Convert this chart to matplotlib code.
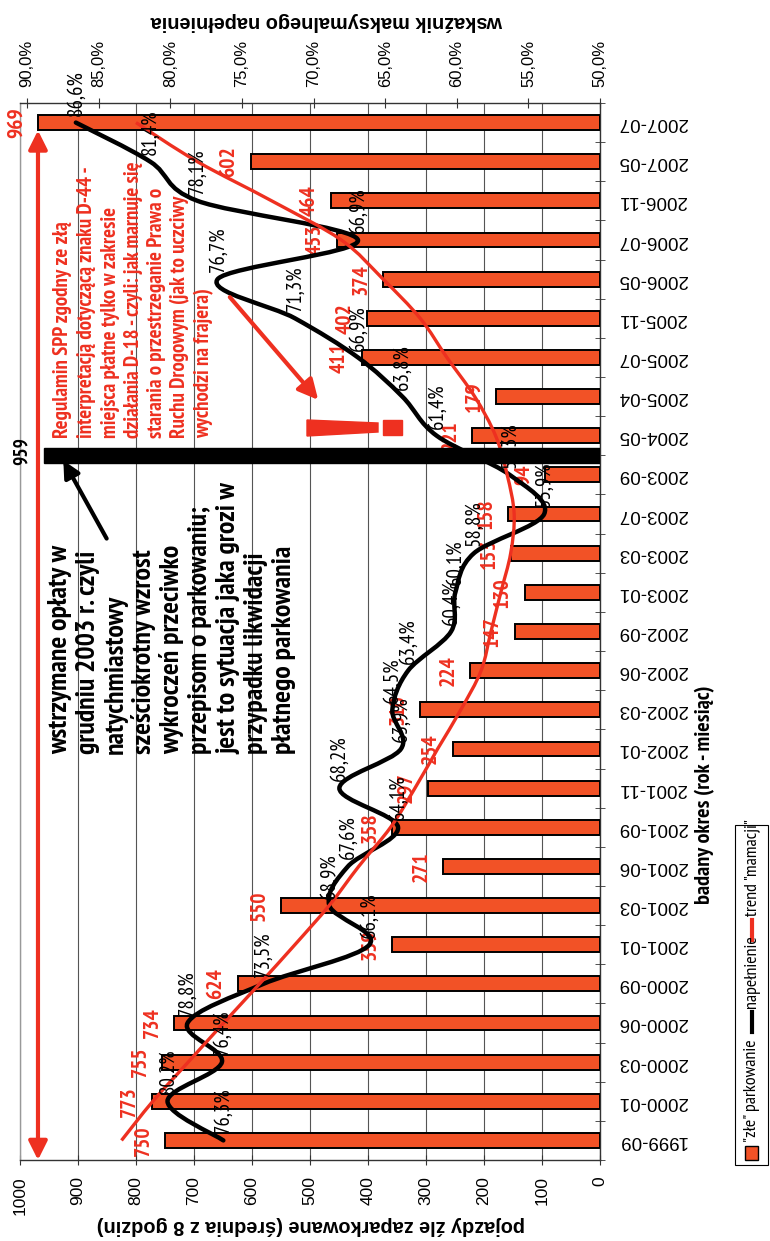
import numpy as np
import matplotlib
matplotlib.use("Agg")
import matplotlib.pyplot as plt
from matplotlib import font_manager as fm
from matplotlib.path import Path
from matplotlib.patches import PathPatch, Rectangle, Polygon, FancyArrowPatch
from matplotlib.lines import Line2D

# ---- data (bottom -> top) ----
categories = ["1999-09", "2000-01", "2000-03", "2000-06", "2000-09", "2001-01",
              "2001-03", "2001-06", "2001-09", "2001-11", "2002-01", "2002-03",
              "2002-06", "2002-09", "2003-01", "2003-03", "2003-07", "2003-09",
              "2004-05", "2005-04", "2005-07", "2005-11", "2006-05", "2006-07",
              "2006-11", "2007-05", "2007-07"]
bad_parking = [750, 773, 755, 734, 624, 359, 550, 271, 358, 297, 254, 310,
               224, 147, 130, 153, 158, 94, 221, 179, 411, 402, 374, 453,
               464, 602, 969]
fill_pct = [76.3, 80.2, 76.4, 78.8, 73.5, 66.1, 68.9, 67.6, 64.1, 68.2, 63.9,
            64.5, 63.4, 60.4, 60.1, 58.8, 53.9, 56.3, 61.4, 63.8, 66.9, 71.3,
            76.7, 66.9, 78.1, 81.4, 86.6]
trend = [825, 771, 710, 649, 587, 526, 467, 416, 361, 319, 280, 240, 205,
         188, 171, 154, 148, 160, 180, 216, 264, 310, 374, 446, 566, 694, 800]
break_value = 959      # level after the fee stop, Dec 2003
break_pos = 17.5       # between 2003-09 and 2004-05

BAR = "#F25226"
RED = "#EE3020"

names = {f.name for f in fm.fontManager.ttflist}


def pick(*opts):
    for o in opts:
        if o in names:
            return o
    return "DejaVu Sans"


def pick_bold(*opts):
    for o in opts:
        ws = {str(f.weight) for f in fm.fontManager.ttflist if f.name == o}
        if ws & {"700", "bold"}:
            return o
    return None


SANS = pick("Liberation Sans", "Arimo", "DejaVu Sans")
NARROW = pick_bold("Liberation Sans Narrow", "Arial Narrow", "PT Sans Narrow",
                   "Roboto Condensed", "Asap Condensed", "Cabin Condensed",
                   "Barlow Condensed") or pick("Archivo Narrow", SANS)
plt.rcParams["font.family"] = [SANS, "DejaVu Sans"]

W, H = 770, 1241


def fp(x, y):
    # pixel position in the picture -> figure fraction
    return x / W, 1 - y / H


def smooth_path(xs, ys):
    pts = np.column_stack([xs, ys]).astype(float)
    n = len(pts)
    verts = [pts[0]]
    codes = [Path.MOVETO]
    for i in range(n - 1):
        p0 = pts[i - 1] if i > 0 else pts[i]
        p1, p2 = pts[i], pts[i + 1]
        p3 = pts[i + 2] if i + 2 < n else pts[i + 1]
        verts += [p1 + (p2 - p0) / 6, p2 - (p3 - p1) / 6, p2]
        codes += [Path.CURVE4] * 3
    return Path(verts, codes)


fig = plt.figure(figsize=(W / 100, H / 100), dpi=100)
x0, y0 = fp(20, 1160)
x1, y1 = fp(600, 103)
ax = fig.add_axes([x0, y0, x1 - x0, y1 - y0])
pos = np.arange(len(categories))

ax.barh(pos, bad_parking, height=0.38, color=BAR, edgecolor="black",
        linewidth=1.4, zorder=3)
ax.set_xlim(1000, 0)
ax.set_ylim(-0.5, len(categories) - 0.5)
ax.set_xticks(np.arange(0, 1001, 100))
ax.tick_params(axis="x", direction="inout", length=7, color="#333333",
               labelsize=12.5, pad=8, labelrotation=90)
ax.grid(axis="x", color="#555555", linewidth=0.8)
ax.set_axisbelow(True)
ax.yaxis.tick_right()
ax.set_yticks(pos)
ax.set_yticklabels(categories, rotation=180, fontsize=13.5, va="center")
ax.tick_params(axis="y", which="major", length=0, pad=13)
ax.set_yticks(np.arange(-0.5, len(categories), 1), minor=True)
ax.tick_params(axis="y", which="minor", direction="inout", length=7,
               color="#333333", right=True, left=False)
for s in ax.spines.values():
    s.set_color("#333333")
    s.set_linewidth(1.0)
ax.spines["left"].set_color("#999999")

# value labels of the bars
for i, v in enumerate(bad_parking):
    ax.annotate(str(v), xy=(v, i), xytext=(-9, 0), textcoords="offset points",
                ha="right", va="center", rotation=90, color=RED,
                fontsize=15.5, fontweight="bold", family=NARROW, zorder=5)

# secondary axis: fill ratio
ax2 = ax.twiny()
ax2.set_xlim(90.5, 50)
ax2.set_ylim(ax.get_ylim())
pt = np.arange(50, 91, 5)
ax2.set_xticks(pt)
ax2.set_xticklabels([f"{v:.1f}%".replace(".", ",") for v in pt])
ax2.tick_params(axis="x", direction="inout", length=7, color="#333333",
                labelsize=12, pad=8, labelrotation=90)
for s in ax2.spines.values():
    s.set_visible(False)

ax2.add_patch(PathPatch(smooth_path(fill_pct, pos), fill=False,
                        edgecolor="black", linewidth=3.2, zorder=4,
                        capstyle="round", joinstyle="round"))
ax2.add_patch(PathPatch(smooth_path(trend, pos), fill=False, edgecolor=RED,
                        linewidth=2.4, zorder=5, transform=ax.transData))
for i, v in enumerate(fill_pct):
    ax2.annotate(f"{v:.1f}%".replace(".", ","), xy=(v, i), xytext=(0, 5),
                 textcoords="offset points", ha="center", va="bottom",
                 rotation=90, fontsize=15, family=NARROW, zorder=6)

# the 959 marker bar (Dec 2003)
ax2.add_patch(Rectangle((0, break_pos - 0.2), break_value, 0.4,
                        transform=ax.transData, color="black", zorder=7))
ax2.annotate(str(break_value), xy=(break_value, break_pos),
             xycoords=ax.transData, xytext=(-9, 3), textcoords="offset points",
             ha="right", va="center", rotation=90, fontsize=14,
             fontweight="bold", family=NARROW, zorder=7)

# red double arrow at the 969 level
ax2.annotate("", xy=(bad_parking[-1], -0.5), xytext=(bad_parking[-1], 25.8),
             xycoords=ax.transData, textcoords=ax.transData,
             arrowprops=dict(arrowstyle="<|-|>", color=RED, lw=3,
                             mutation_scale=28, shrinkA=0, shrinkB=0))

# annotations
black_lines = ["wstrzymane opłaty w", "grudniu 2003 r. czyli", "natychmiastowy",
               "sześciokrotny wzrost", "wykroczeń przeciwko",
               "przepisom o parkowaniu;", "jest to sytuacja jaka grozi w",
               "przypadku likwidacji", "płatnego parkowania"]
for k, t in enumerate(black_lines):
    fig.text(*fp(60 + 28 * k, 754), t, rotation=90, ha="center", va="bottom",
             fontsize=20, fontweight="bold", family=NARROW)

red_lines = ["Regulamin SPP zgodny ze złą",
             "interpretacją dotyczącą znaku D-44 -",
             "miejsca płatne tylko w zakresie",
             "działania D-18 - czyli: jak marnuje się",
             "starania o przestrzeganie Prawa o",
             "Ruchu Drogowym (jak to uczciwy",
             "wychodzi na frajera)"]
for k, t in enumerate(red_lines):
    fig.text(*fp(63 + 23.5 * k, 438), t, rotation=90, ha="center", va="bottom",
             fontsize=15, fontweight="bold", family=NARROW, color=RED)

fig.add_artist(FancyArrowPatch(fp(108, 541), fp(62, 458), transform=fig.transFigure,
                               arrowstyle="-|>", mutation_scale=25, color="black", lw=3))
fig.add_artist(FancyArrowPatch(fp(228, 295), fp(320, 402), transform=fig.transFigure,
                               arrowstyle="-|>", mutation_scale=30, color=RED, lw=3))
# exclamation mark
fig.add_artist(Polygon([fp(307, 420), fp(378, 423), fp(378, 432), fp(307, 436)],
                       closed=True, transform=fig.transFigure, color=RED))
fig.add_artist(Rectangle(fp(383, 435), 19 / W, 15 / H,
                         transform=fig.transFigure, color=RED))

# axis titles
fig.text(*fp(327, 22), "wskaźnik maksymalnego napełnienia", rotation=180,
         ha="center", va="center", fontsize=14.3, fontweight="bold")
fig.text(*fp(311, 1225), "pojazdy źle zaparkowane (średnia z 8 godzin)",
         rotation=180, ha="center", va="center", fontsize=14.3, fontweight="bold")
fig.text(*fp(705, 795), "badany okres (rok - miesiąc)", rotation=90,
         ha="center", va="center", fontsize=16, fontweight="bold", family=NARROW)

# legend, drawn by hand because it is rotated
fig.add_artist(Rectangle(fp(735, 1165), 33 / W, 340 / H, transform=fig.transFigure,
                         fill=False, edgecolor="black", lw=0.8))
fig.add_artist(Rectangle(fp(745, 1160), 13 / W, 14 / H, transform=fig.transFigure,
                         facecolor=BAR, edgecolor="black", lw=1))
fig.text(*fp(752, 1142), "\"złe\" parkowanie", rotation=90, ha="center",
         va="bottom", fontsize=13, family=NARROW)
fig.add_artist(Line2D([752 / W] * 2, [1 - 1032 / H, 1 - 1012 / H],
                      transform=fig.transFigure, color="black", lw=3))
fig.text(*fp(752, 1008), "napełnienie", rotation=90, ha="center", va="bottom",
         fontsize=13, family=NARROW)
fig.add_artist(Line2D([752 / W] * 2, [1 - 940 / H, 1 - 920 / H],
                      transform=fig.transFigure, color=RED, lw=3))
fig.text(*fp(752, 916), "trend \"mamacji\"", rotation=90, ha="center", va="bottom",
         fontsize=13, family=NARROW)

fig.savefig("out.png", dpi=100)
